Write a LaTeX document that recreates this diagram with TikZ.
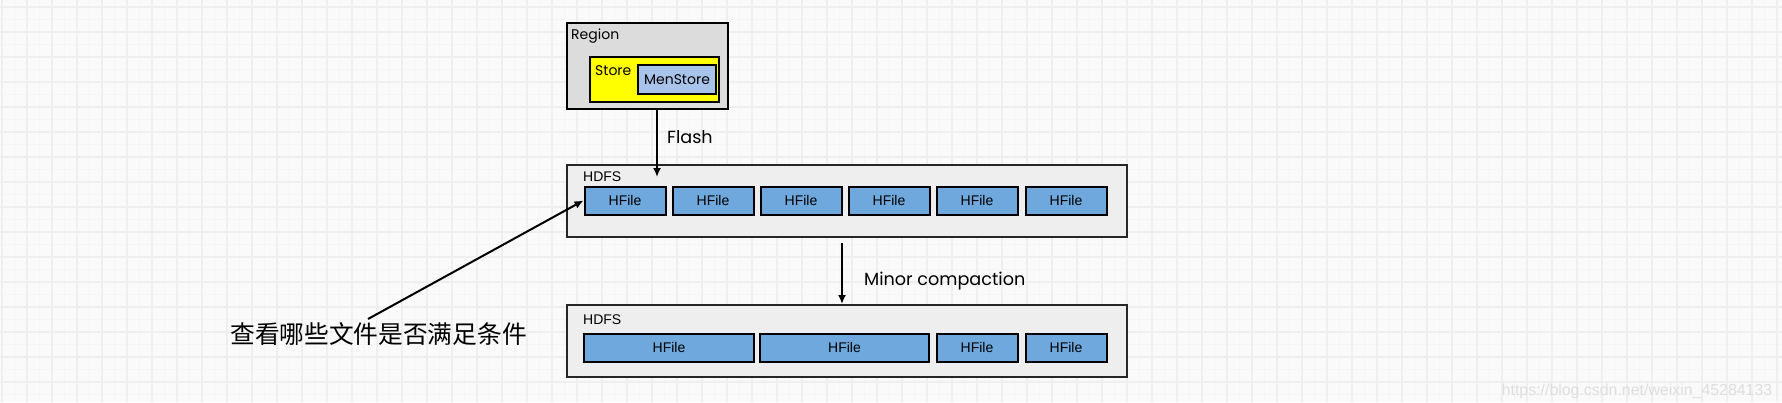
\documentclass[tikz,border=0pt]{standalone}
\usepackage{fontspec}
\usepackage{tikz}
\usetikzlibrary{arrows.meta}
\setmainfont{Poppins}
\newfontfamily\arialfont{Liberation Sans}
\newfontfamily\cjkfont{Noto Sans CJK SC}

\definecolor{paper}{HTML}{FAFAFA}
\definecolor{gridminor}{HTML}{F5F5F5}
\definecolor{gridmajor}{HTML}{EFEFEF}
\definecolor{regiongray}{HTML}{DCDCDC}
\definecolor{storeyellow}{HTML}{FFFF00}
\definecolor{memblue}{HTML}{A9C4EB}
\definecolor{hdfsgray}{HTML}{EEEEEE}
\definecolor{hfileblue}{HTML}{6FA8DC}
\definecolor{markgray}{HTML}{DEDEDE}

\begin{document}
\begin{tikzpicture}[x=1pt,y=-1pt]
	\tikzstyle{every node}+=[inner sep=0pt]
	\tikzstyle{box}=[draw=black, line width=2pt]
	\tikzstyle{regionbox}=[box, fill=regiongray, minimum width=161pt, minimum height=86pt]
	\tikzstyle{storebox}=[box, fill=storeyellow, minimum width=129pt, minimum height=45pt]
	\tikzstyle{membox}=[box, fill=memblue, minimum width=78pt, minimum height=29pt, font=\fontsize{14}{17}\selectfont]
	\tikzstyle{hdfsbox}=[box, draw=black!85, fill=hdfsgray, minimum width=560pt, minimum height=72pt]
	\tikzstyle{hfile}=[box, fill=hfileblue, minimum height=28pt, font=\arialfont\fontsize{14}{17}\selectfont]
	\tikzstyle{smalllabel}=[anchor=west, font=\fontsize{14}{17}\selectfont]
	\tikzstyle{hdfslabel}=[anchor=west, font=\arialfont\fontsize{14}{17}\selectfont]
	\tikzstyle{flowlabel}=[anchor=west, font=\fontsize{17.6}{20}\selectfont]
	\tikzstyle{arr}=[line width=2pt, -{Latex[length=9pt,width=8pt]}]
	\useasboundingbox (0,0) rectangle (1782,402);
	% background grid
	\begin{scope}
		\clip (0,0) rectangle (1782,402);
		\fill [paper] (0,0) rectangle (1782,402);
		\foreach \gx in {2,14.5,...,1790} \draw [gridminor, line width=1pt] (\gx,0) -- (\gx,402);
		\foreach \gy in {-5.5,7,...,410} \draw [gridminor, line width=1pt] (0,\gy) -- (1782,\gy);
		\foreach \gx in {2,27,...,1790} \draw [gridmajor, line width=2pt] (\gx,0) -- (\gx,402);
		\foreach \gy in {7,32,...,410} \draw [gridmajor, line width=2pt] (0,\gy) -- (1782,\gy);
	\end{scope}
	% region
	\node [regionbox] (region) at (647.5,66) {};
	\node [smalllabel] (regionlabel) at (571,36) {Region};
	\node [storebox] (store) at (654.5,79.5) {};
	\node [smalllabel] (storelabel) at (595,71) {Store};
	\node [membox] (memstore) at (677,79.5) {MenStore};
	% first hdfs
	\node [hdfsbox] (hdfsA) at (847,201) {};
	\node [hdfslabel] (hdfsAlabel) at (583,177) {HDFS};
	\node [hfile, minimum width=81pt] (fileA1) at (625,200.5) {HFile};
	\node [hfile, minimum width=81pt] (fileA2) at (713,200.5) {HFile};
	\node [hfile, minimum width=81pt] (fileA3) at (801,200.5) {HFile};
	\node [hfile, minimum width=81pt] (fileA4) at (889,200.5) {HFile};
	\node [hfile, minimum width=81pt] (fileA5) at (977,200.5) {HFile};
	\node [hfile, minimum width=81pt] (fileA6) at (1066,200.5) {HFile};
	% second hdfs
	\node [hdfsbox] (hdfsB) at (847,341) {};
	\node [hdfslabel] (hdfsBlabel) at (583,320) {HDFS};
	\node [hfile, minimum width=170pt] (fileB1) at (669,347.5) {HFile};
	\node [hfile, minimum width=169pt] (fileB2) at (844.5,347.5) {HFile};
	\node [hfile, minimum width=81pt] (fileB3) at (977,347.5) {HFile};
	\node [hfile, minimum width=81pt] (fileB4) at (1066,347.5) {HFile};
	% flash
	\coordinate (flashtip) at (657,177);
	\draw [arr] (region.south -| flashtip) -- (flashtip);
	\node [flowlabel] (flashlabel) at (667,137) {Flash};
	% minor compaction
	\coordinate (minorstart) at (842,243);
	\draw [arr] (minorstart) -- (hdfsB.north -| minorstart);
	\node [flowlabel] (minorlabel) at (864,281) {Minor compaction};
	% note
	\node [font=\cjkfont\fontsize{24.7}{28}\selectfont] (note) at (378.5,334) {查看哪些文件是否满足条件};
	\coordinate (notestart) at (368,319);
	\draw [arr] (notestart) -- (fileA1.west);
	% watermark
	\node [font=\arialfont\fontsize{15.9}{18}\selectfont, text=markgray] (mark) at (1637,391) {https://blog.csdn.net/weixin\_45284133};
\end{tikzpicture}
\end{document}
